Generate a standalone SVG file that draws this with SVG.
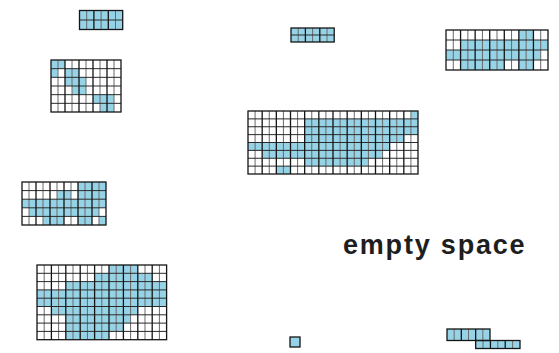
<svg xmlns="http://www.w3.org/2000/svg" width="559" height="353" viewBox="0 0 559 353">
<style>
.bg{fill:#fff}
.b{fill:#96d3e7}
.blk{fill:none;stroke:#151515;stroke-width:1.3}
.gry{fill:none;stroke:#6a6a6a;stroke-width:1}
.hz{fill:none;stroke:#2a2a2a;stroke-width:1}
.lbl{font-family:"Liberation Sans",Arial,sans-serif;font-weight:bold;font-size:27px;letter-spacing:1.8px;fill:#1e1e1e}
</style>
<rect x="0" y="0" width="559" height="353" fill="#fff"/>

<g id="grid1">
<rect class="b" x="79.5" y="10.5" width="43.2" height="19"/>
<path class="gry" d="M86.7 10.5V29.5M101.1 10.5V29.5M115.5 10.5V29.5"/>
<path class="hz" d="M79.5 20H122.7"/>
<path class="blk" d="M93.9 10.5V29.5M108.3 10.5V29.5"/>
<rect class="blk" x="79.5" y="10.5" width="43.2" height="19"/>
</g>

<g id="grid2">
<rect class="bg" x="51" y="60" width="70" height="52"/>
<rect class="b" x="51" y="60" width="14" height="8.67"/>
<rect class="b" x="51" y="68.67" width="7" height="8.67"/>
<rect class="b" x="65" y="68.67" width="14" height="8.67"/>
<rect class="b" x="65" y="77.33" width="21" height="8.67"/>
<rect class="b" x="72" y="86" width="14" height="8.67"/>
<rect class="b" x="93" y="94.67" width="21" height="8.67"/>
<rect class="b" x="100" y="103.33" width="14" height="8.67"/>
<path class="gry" d="M58 60V112M72 60V112M86 60V112M100 60V112M114 60V112"/>
<path class="hz" d="M51 68.67H121M51 77.33H121M51 86H121M51 94.67H121M51 103.33H121"/>
<path class="blk" d="M65 60V112M79 60V112M93 60V112M107 60V112"/>
<rect class="blk" x="51" y="60" width="70" height="52"/>
</g>

<g id="grid3">
<rect class="bg" x="22" y="182" width="84" height="43"/>
<rect class="b" x="78" y="182" width="28" height="8.6"/>
<rect class="b" x="57" y="190.6" width="14" height="8.6"/>
<rect class="b" x="78" y="190.6" width="28" height="8.6"/>
<rect class="b" x="22" y="199.2" width="84" height="8.6"/>
<rect class="b" x="29" y="207.8" width="70" height="8.6"/>
<rect class="b" x="43" y="216.4" width="21" height="8.6"/>
<rect class="b" x="78" y="216.4" width="14" height="8.6"/>
<rect class="b" x="99" y="216.4" width="7" height="8.6"/>
<path class="gry" d="M29 182V225M43 182V225M57 182V225M71 182V225M85 182V225M99 182V225"/>
<path class="hz" d="M22 190.6H106M22 199.2H106M22 207.8H106M22 216.4H106"/>
<path class="blk" d="M36 182V225M50 182V225M64 182V225M78 182V225M92 182V225"/>
<rect class="blk" x="22" y="182" width="84" height="43"/>
</g>

<g id="grid4">
<rect class="bg" x="37" y="265" width="129.6" height="74.7"/>
<rect class="b" x="109" y="265" width="28.8" height="8.3"/>
<rect class="b" x="94.6" y="273.3" width="57.6" height="8.3"/>
<rect class="b" x="65.8" y="281.6" width="100.8" height="8.3"/>
<rect class="b" x="37" y="289.9" width="129.6" height="16.6"/>
<rect class="b" x="51.4" y="306.5" width="86.4" height="8.3"/>
<rect class="b" x="65.8" y="314.8" width="64.8" height="8.3"/>
<rect class="b" x="65.8" y="323.1" width="57.6" height="8.3"/>
<rect class="b" x="65.8" y="331.4" width="43.2" height="8.3"/>
<path class="gry" d="M44.2 265V339.7M58.6 265V339.7M73 265V339.7M87.4 265V339.7M101.8 265V339.7M116.2 265V339.7M130.6 265V339.7M145 265V339.7M159.4 265V339.7"/>
<path class="hz" d="M37 273.3H166.6M37 281.6H166.6M37 289.9H166.6M37 298.2H166.6M37 306.5H166.6M37 314.8H166.6M37 323.1H166.6M37 331.4H166.6"/>
<path class="blk" d="M51.4 265V339.7M65.8 265V339.7M80.2 265V339.7M94.6 265V339.7M109 265V339.7M123.4 265V339.7M137.8 265V339.7M152.2 265V339.7"/>
<rect class="blk" x="37" y="265" width="129.6" height="74.7"/>
</g>

<g id="grid5">
<rect class="bg" x="248" y="111" width="170" height="63"/>
<rect class="b" x="410.92" y="111" width="7.08" height="7.88"/>
<rect class="b" x="304.67" y="118.88" width="113.33" height="15.75"/>
<rect class="b" x="304.67" y="134.63" width="99.17" height="7.88"/>
<rect class="b" x="248" y="142.5" width="141.67" height="7.88"/>
<rect class="b" x="262.17" y="150.38" width="120.42" height="7.88"/>
<rect class="b" x="304.67" y="158.25" width="63.75" height="7.88"/>
<rect class="b" x="276.33" y="166.13" width="14.17" height="7.88"/>
<path class="gry" d="M255.08 111V174M269.25 111V174M283.42 111V174M297.58 111V174M311.75 111V174M325.92 111V174M340.08 111V174M354.25 111V174M368.42 111V174M382.58 111V174M396.75 111V174M410.92 111V174"/>
<path class="hz" d="M248 118.88H418M248 126.75H418M248 134.63H418M248 142.5H418M248 150.38H418M248 158.25H418M248 166.13H418"/>
<path class="blk" d="M262.17 111V174M276.33 111V174M290.5 111V174M304.67 111V174M318.83 111V174M333 111V174M347.17 111V174M361.33 111V174M375.5 111V174M389.67 111V174M403.83 111V174"/>
<rect class="blk" x="248" y="111" width="170" height="63"/>
</g>

<g id="grid6">
<rect class="b" x="291" y="28" width="43.2" height="14"/>
<path class="gry" d="M298.2 28V42M312.6 28V42M327 28V42"/>
<path class="hz" d="M291 35H334.2"/>
<path class="blk" d="M305.4 28V42M319.8 28V42"/>
<rect class="blk" x="291" y="28" width="43.2" height="14"/>
</g>

<g id="grid7">
<rect class="bg" x="446" y="30" width="102" height="40"/>
<rect class="b" x="518.86" y="30" width="14.57" height="10"/>
<rect class="b" x="460.57" y="40" width="87.43" height="10"/>
<rect class="b" x="446" y="50" width="94.71" height="10"/>
<rect class="b" x="460.57" y="60" width="43.71" height="10"/>
<rect class="b" x="518.86" y="60" width="14.57" height="10"/>
<path class="gry" d="M453.29 30V70M467.86 30V70M482.43 30V70M497 30V70M511.57 30V70M526.14 30V70M540.71 30V70"/>
<path class="hz" d="M446 40H548M446 50H548M446 60H548"/>
<path class="blk" d="M460.57 30V70M475.14 30V70M489.71 30V70M504.29 30V70M518.86 30V70M533.43 30V70"/>
<rect class="blk" x="446" y="30" width="102" height="40"/>
</g>

<g id="grid8">
<rect class="b" x="290" y="337" width="10" height="10"/>
<rect class="blk" x="290" y="337" width="10" height="10"/>
</g>

<g id="grid9">
<rect class="b" x="447" y="329" width="43" height="11.5"/>
<rect class="b" x="475.67" y="340.5" width="44.33" height="8"/>
<path class="gry" d="M454.17 329V340.5M468.5 329V340.5M482.83 329V340.5M483.06 340.5V348.5M497.83 340.5V348.5M512.61 340.5V348.5"/>
<path class="blk" d="M461.33 329V340.5M475.67 329V340.5M490.44 340.5V348.5M505.22 340.5V348.5"/>
<rect class="blk" x="447" y="329" width="43" height="11.5"/>
<rect class="blk" x="475.67" y="340.5" width="44.33" height="8"/>
</g>

<text class="lbl" x="343" y="254">empty space</text>
</svg>
